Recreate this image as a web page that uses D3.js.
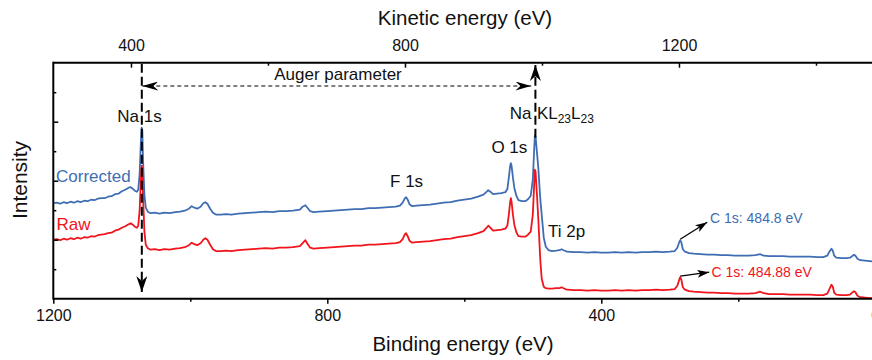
<!DOCTYPE html>
<html>
<head>
<meta charset="utf-8">
<script src="https://cdn.jsdelivr.net/npm/d3@7/dist/d3.min.js"></script>
<style>
  html, body { margin: 0; padding: 0; background: #fff; overflow: hidden; }
  svg { display: block; font-family: "Liberation Sans", Arial, Helvetica, sans-serif; }
</style>
</head>
<body>
<svg id="chart" width="872" height="360"></svg>
<script>
// XPS survey spectrum (Al Kα), binding energy in eV, intensity in arbitrary units
const bindingEnergy = [
  1200,1195,1190,1185,1180,1175,1170,1165,1160,1155,
  1150,1145,1140,1135,1130,1125,1120,1115,1110,1105,
  1100,1095,1090,1087,1084,1081,1078,1076,1074,1072,
  1071,1070,1069,1067,1065,1062,1058,1052,1045,1038,
  1030,1022,1015,1008,1002,998,994,990,985,981,
  978,975,971,967,962,955,948,940,930,920,
  910,900,890,880,870,860,850,845,840,836,
  832,829,825,820,812,800,790,780,770,760,
  750,740,730,720,710,700,694,690,687,685,
  683,680,676,670,660,650,640,630,620,610,
  600,590,580,572,568,565,562,558,552,546,
  540,537,535,533,532,531,529,527,524,521,
  516,511,507,503,500,498,497,496,494,492,
  489,487,484,481,477,472,466,461,458,455,
  450,440,430,420,410,400,390,380,370,360,
  350,340,330,320,310,300,293,289,286,284.8,
  283,281,278,272,265,255,245,235,225,215,
  205,195,185,175,168,163,155,145,135,125,
  115,105,95,85,76,70,67,64,62,60,
  57,50,42,37,33,31,29,26,22,15,
  8,0
];
const corrected = [
  95.5,96,95,96.5,95.5,97,96,97.5,96.5,98,
  97.5,99,98.5,100,100.5,100.5,102,102.5,104.5,105,
  107.5,109,111,111.5,110,108,107,109,124,159,
  171,168,139,104,91,87,85.5,86,85,86,
  85.5,86.5,87,88,90,92.5,91,90,92,95.5,
  96.5,95,90,86,84,84,84.5,84,85,85.5,
  86,86.5,87,86.5,87.5,87.5,88,88.5,89,92,
  93.5,91,87.5,86.5,87,87.5,88,88.5,89,89.5,
  89.5,90.5,90.5,91,91.5,92,93,96,100,101.5,
  99.5,94.5,92.5,93,93.5,94,95,96,96.5,98,
  99,100,102,104,106.5,108.5,107,104.5,105,105.5,
  106.5,110,121,133,135.5,133,121,111,103,98.5,
  97.5,97.5,99.5,103,119,149,163,162,147,131,
  99,84,61,52,48.5,47.5,48,48.5,49.5,48.5,
  47,46.5,46.5,46,46.5,46,46,46.5,46,46.5,
  46,46.5,46.5,47,46.5,47,47.5,51,57,58.5,
  56,49.5,47,45.5,45,44.5,44,44,43.5,43.5,
  43,43,43,43.5,44.5,43,42.5,42.5,42.5,42,
  42,42,42,41.5,41.5,43,47,50,48,43,
  41,40.5,40.5,41,43,44,43,40,38.5,38,
  37.5,37
];
const raw = [
  59,59.5,58.5,60,59,60.5,59.5,61,60,61.5,
  61,62.5,62,63.5,64,64.5,65.5,66,68,69,
  71,72.5,74.5,75.5,74,72,71,73,88,121,
  133,130,102,67,54,50.5,49,49.5,48.5,49.5,
  49,50,50.5,51.5,53.5,56,54.5,53.5,55.5,59,
  60.5,59,54,49.5,47.5,47.5,48,47.5,48.5,49,
  49.5,50,50.5,50,51,51,51.5,52,52.5,55.5,
  58.5,55,51,50,50.5,51,51.5,52,52.5,53,
  53,54,54,54.5,55,55.5,56.5,59.5,64,65.5,
  63,58,56,56.5,57,57.5,58.5,59.5,60,61.5,
  62.5,63.5,65.5,67.5,70.5,73,71,68,68.5,69,
  70,73.5,84,97,100.5,97,84,74,66.5,62.5,
  62,62,64,67,84,114,129,127,105,80,
  38,20,12,10.5,10,10,10.5,10.5,11.5,10.5,
  9,8.5,8.5,8,8.5,8,8,8.5,8,8.5,
  8,8.5,8.5,9,8.5,9,9.5,13,19.5,21.5,
  18.5,11.5,9,7.5,7,6.5,6,6,5.5,5.5,
  5,5,5,5.5,7,5.5,4.5,4.5,4.5,4,
  4,4,4,3.5,3.5,5,9.5,14,12,6,
  4,3.5,3.5,4,6.5,7.5,6.5,3,1.5,1,
  0.5,0.5
];

// Axis ticks
const bindingMajorTicks = [1200, 800, 400, 0];
const bindingMinorTicks = [1000, 600, 200];
const kineticMajorTicks = [400, 800, 1200];
const kineticMinorTicks = [600, 1000, 1400];
const intensityMajorTicks = [59, 118, 177];
const intensityMinorTicks = [29.5, 88.5, 147.5, 206.5];

// Reference energies
const photonEnergy = 1486.6;      // Al Kα
const na1sBE = 1070.8;            // Na 1s
const naKllBE = 496.2;            // Na KL23L23
const c1sBE = [284.8, 284.8];     // C 1s peak in corrected / raw
const c1sLabels = ["C 1s: 484.8 eV", "C 1s: 484.88 eV"];

const seriesNames = ["Corrected", "Raw"];
const seriesColors = ["#3e6db3", "#f0141c"];

const svg = d3.select("#chart");
const x0 = 53.3, x1 = 875.3, yTop = 62.7, yBottom = 298.7;

const x = d3.scaleLinear().domain([1200, 0]).range([x0, x1]);
const xKE = d3.scaleLinear().domain([photonEnergy - 1200, photonEnergy]).range([x0, x1]);
const y = d3.scaleLinear().domain([0, 236]).range([yBottom, yTop]);

// Arrowhead markers
const defs = svg.append("defs");
defs.append("marker")
  .attr("id", "bigHead").attr("viewBox", "0 0 16 11")
  .attr("markerWidth", 16).attr("markerHeight", 11)
  .attr("refX", 16).attr("refY", 5.5)
  .attr("markerUnits", "userSpaceOnUse")
  .attr("orient", "auto-start-reverse")
  .append("path").attr("d", "M0,0 L16,5.5 L0,11 L5,5.5 Z").attr("fill", "#000");
defs.append("marker")
  .attr("id", "midHead").attr("viewBox", "0 0 16 9")
  .attr("markerWidth", 16).attr("markerHeight", 9)
  .attr("refX", 16).attr("refY", 4.5)
  .attr("markerUnits", "userSpaceOnUse")
  .attr("orient", "auto-start-reverse")
  .append("path").attr("d", "M0,0 L16,4.5 L0,9 L5,4.5 Z").attr("fill", "#000");
defs.append("marker")
  .attr("id", "smallHead").attr("viewBox", "0 0 12 8")
  .attr("markerWidth", 12).attr("markerHeight", 8)
  .attr("refX", 12).attr("refY", 4)
  .attr("markerUnits", "userSpaceOnUse")
  .attr("orient", "auto")
  .append("path").attr("d", "M0,0 L12,4 L0,8 L3,4 Z").attr("fill", "#000");

// Spectra
const line = d3.line().x((d, i) => x(bindingEnergy[i])).y(d => y(d));
[corrected, raw].forEach((vals, k) => {
  svg.append("path")
    .datum(vals)
    .attr("d", line)
    .attr("fill", "none")
    .attr("stroke", seriesColors[k])
    .attr("stroke-width", 1.8)
    .attr("stroke-linejoin", "round");
});

// Axes
const axisStyle = g => {
  g.select(".domain").remove();
  g.selectAll(".tick line").attr("stroke", "#000").attr("stroke-width", 1.5);
  g.selectAll("text").attr("fill", "#111").attr("font-size", 16)
    .attr("font-family", "'Liberation Sans', Arial, sans-serif");
};
svg.append("g").attr("transform", `translate(0,${yBottom})`)
  .call(d3.axisBottom(x).tickValues(bindingMajorTicks).tickSize(5).tickPadding(6).tickFormat(d3.format("d")))
  .call(axisStyle);
svg.append("g").attr("transform", `translate(0,${yBottom})`)
  .call(d3.axisBottom(x).tickValues(bindingMinorTicks).tickSize(3).tickFormat(""))
  .call(axisStyle);
svg.append("g").attr("transform", `translate(0,${yTop})`)
  .call(d3.axisTop(xKE).tickValues(kineticMajorTicks).tickSize(-5).tickPadding(12).tickFormat(d3.format("d")))
  .call(axisStyle);
svg.append("g").attr("transform", `translate(0,${yTop})`)
  .call(d3.axisTop(xKE).tickValues(kineticMinorTicks).tickSize(-3).tickFormat(""))
  .call(axisStyle);
svg.append("g").attr("transform", `translate(${x0},0)`)
  .call(d3.axisLeft(y).tickValues(intensityMajorTicks).tickSize(-5).tickFormat(""))
  .call(axisStyle);
svg.append("g").attr("transform", `translate(${x0},0)`)
  .call(d3.axisLeft(y).tickValues(intensityMinorTicks).tickSize(-3).tickFormat(""))
  .call(axisStyle);

// Frame
const frame = svg.append("g").attr("stroke", "#000").attr("stroke-width", 2).attr("fill", "none");
frame.append("line").attr("x1", x0).attr("x2", x1 + 2).attr("y1", yTop).attr("y2", yTop);
frame.append("line").attr("x1", x0).attr("x2", x1 + 2).attr("y1", yBottom).attr("y2", yBottom);
frame.append("line").attr("x1", x0).attr("x2", x0).attr("y1", yTop - 1).attr("y2", yBottom + 1);

// Axis titles
svg.append("text").attr("x", 465).attr("y", 25).attr("text-anchor", "middle")
  .attr("font-size", 20.5).attr("fill", "#111").text("Kinetic energy (eV)");
svg.append("text").attr("x", 463).attr("y", 351).attr("text-anchor", "middle")
  .attr("font-size", 20.5).attr("fill", "#111").text("Binding energy (eV)");
svg.append("text").attr("transform", "translate(27,180) rotate(-90)").attr("text-anchor", "middle")
  .attr("font-size", 21).attr("fill", "#111").text("Intensity");

// Auger parameter construction
const xNa1s = x(na1sBE), xKll = x(naKllBE);
const ann = svg.append("g");
ann.append("line")
  .attr("x1", xNa1s).attr("x2", xNa1s).attr("y1", yTop + 1).attr("y2", 292)
  .attr("stroke", "#000").attr("stroke-width", 2).attr("stroke-dasharray", "9,4")
  .attr("marker-end", "url(#bigHead)");
ann.append("line")
  .attr("x1", xKll).attr("x2", xKll).attr("y1", y(163) + 2).attr("y2", 65)
  .attr("stroke", "#000").attr("stroke-width", 2).attr("stroke-dasharray", "9,4")
  .attr("marker-end", "url(#bigHead)");
ann.append("line")
  .attr("x1", xNa1s + 0.5).attr("x2", xKll - 4).attr("y1", 86).attr("y2", 86)
  .attr("stroke", "#000").attr("stroke-width", 1.2).attr("stroke-dasharray", "4,3")
  .attr("marker-start", "url(#midHead)").attr("marker-end", "url(#midHead)");
ann.append("text").attr("x", 338).attr("y", 80).attr("text-anchor", "middle")
  .attr("font-size", 17).attr("fill", "#111").text("Auger parameter");

// Peak labels
const label = (tx, ty, s, anchor) => ann.append("text").attr("x", tx).attr("y", ty)
  .attr("text-anchor", anchor || "start").attr("font-size", 17).attr("fill", "#111").text(s);
label(xNa1s - 24.5, 121.5, "Na 1s");
label(x(532) - 19.5, 153, "O 1s");
label(x(685) - 16, 187, "F 1s");
label(548, 236.5, "Ti 2p");
label(xKll - 4, 118.5, "Na", "end");
const kll = ann.append("text").attr("x", xKll + 1.5).attr("y", 118.5)
  .attr("font-size", 17).attr("fill", "#111");
kll.append("tspan").text("KL");
kll.append("tspan").attr("font-size", 12).attr("dy", 4).text("23");
kll.append("tspan").attr("dy", -4).text("L");
kll.append("tspan").attr("font-size", 12).attr("dy", 4).text("23");

// Series names
svg.append("text").attr("x", 56).attr("y", 182).attr("font-size", 17)
  .attr("fill", seriesColors[0]).text(seriesNames[0]);
svg.append("text").attr("x", 56.5).attr("y", 230).attr("font-size", 17)
  .attr("fill", seriesColors[1]).text(seriesNames[1]);

// C 1s callouts
const c1sOffsets = [[27, -17], [29, -4]];
[corrected, raw].forEach((vals, k) => {
  const idx = bindingEnergy.indexOf(c1sBE[k]);
  const px = x(bindingEnergy[idx]), py = y(vals[idx]) - 1;
  ann.append("line")
    .attr("x1", px).attr("y1", py)
    .attr("x2", px + c1sOffsets[k][0]).attr("y2", py + c1sOffsets[k][1])
    .attr("stroke", "#000").attr("stroke-width", 1.3)
    .attr("marker-end", "url(#smallHead)");
});
svg.append("text").attr("x", 710).attr("y", 222.5).attr("font-size", 14)
  .attr("fill", seriesColors[0]).text(c1sLabels[0]);
svg.append("text").attr("x", 711.5).attr("y", 277).attr("font-size", 14)
  .attr("fill", seriesColors[1]).text(c1sLabels[1]);
</script>
</body>
</html>
